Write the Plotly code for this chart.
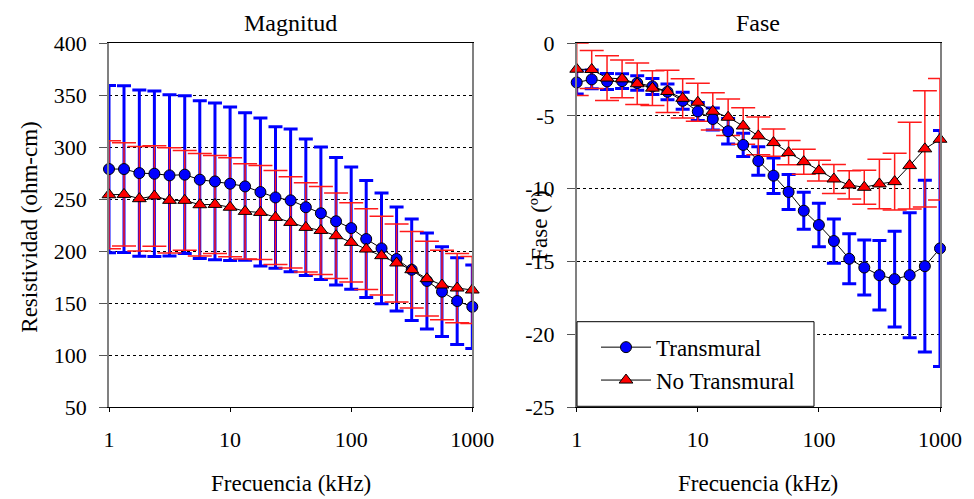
import plotly.graph_objects as go

# Frequencies (kHz)
freq = [1, 1.33, 1.78, 2.37, 3.16, 4.22, 5.62, 7.5, 10, 13.3, 17.8, 23.7, 31.6,
        42.2, 56.2, 75, 100, 133, 178, 237, 316, 422, 562, 750, 1000]

# Magnitud (ohm-cm)
mag_trans = [278.8, 278.8, 274.9, 274.3, 272.7, 273.4, 268.6, 266.9, 264.7, 262.1, 256.7, 251.5, 248.7,
             242.1, 236.3, 228.6, 222.0, 211.5, 202.5, 192.3, 182.0, 171.2, 160.9, 151.9, 146.4]
mag_trans_sd = [80.4, 80.2, 79.9, 79.5, 77.6, 75.9, 75.9, 75.4, 73.8, 70.9, 71.2, 68.0, 68.6,
                65.7, 63.7, 61.4, 58.8, 56.3, 53.3, 50.0, 48.8, 46.1, 43.2, 41.7, 40.1]
mag_notrans = [254.1, 254.4, 250.3, 252.9, 248.7, 248.7, 244.5, 244.8, 242.1, 238.1, 237.1, 232.3, 227.5,
               222.7, 219.8, 214.7, 208.3, 201.9, 195.5, 188.5, 182.0, 173.4, 167.3, 164.4, 162.5]
mag_notrans_sd = [52.0, 49.7, 50.3, 48.4, 50.6, 48.0, 49.3, 47.1, 47.6, 45.8, 45.2, 45.2, 43.9,
                  43.0, 42.3, 41.1, 38.1, 38.8, 37.8, 37.5, 36.7, 35.9, 33.5, 33.3, 32.3]

# Fase (grados)
fase_trans = [-2.71, -2.5, -2.64, -2.62, -2.75, -2.98, -3.35, -3.97, -4.7, -5.22, -6.06, -7.0, -8.1,
              -9.11, -10.23, -11.52, -12.5, -13.6, -14.82, -15.42, -15.95, -16.22, -15.95, -15.33, -14.11]
fase_trans_sd = [0.8, 0.65, 0.55, 0.5, 0.5, 0.55, 0.54, 0.58, 0.62, 0.75, 0.88, 0.8, 0.98,
                 1.22, 1.2, 1.27, 1.5, 1.52, 1.72, 1.89, 2.39, 3.29, 4.29, 5.9, 8.1]
fase_notrans = [-1.8, -1.82, -2.41, -2.46, -2.8, -3.1, -3.33, -3.8, -4.07, -4.69, -5.1, -5.7, -6.38,
                -6.84, -7.53, -8.15, -8.77, -9.34, -9.75, -9.91, -9.68, -9.52, -8.42, -7.27, -6.61]
fase_notrans_sd = [1.8, 1.3, 1.54, 1.3, 1.42, 1.2, 1.45, 1.35, 1.3, 1.28, 1.25, 1.25, 1.3,
                   0.94, 0.83, 0.86, 0.71, 1.0, 0.97, 1.17, 1.7, 1.95, 2.98, 3.99, 4.18]

x_tickvals = [1, 10, 100, 1000]
x_ticktext = ["1", "10", "100", "1000"]
mag_tickvals = [50, 100, 150, 200, 250, 300, 350, 400]
mag_ticktext = ["50", "100", "150", "200", "250", "300", "350", "400"]
fase_tickvals = [0, -5, -10, -15, -20, -25]
fase_ticktext = ["0", "-5", "-10", "-15", "-20", "-25"]

FONT = "Times New Roman, Liberation Serif, DejaVu Serif, serif"
OFF = 8                       # page body margin in the browser
W, H = 974 - OFF, 499 - OFF
ML = 109 - OFF
MR = W - (940 - OFF)
MT = 43.3 - OFF
MB = H - (407.3 - OFF)
PW = W - ML - MR
PH = H - MT - MB


def px(xr):
    """reference-pixel x -> paper fraction"""
    return (xr - OFF - ML) / PW


def py(yr):
    """reference-pixel y -> paper fraction"""
    return (H - MB - (yr - OFF)) / PH


fig = go.Figure()


def err_trace(x, y, sd, color, thick, width, xa, ya):
    return go.Scatter(x=x, y=y, mode="markers", xaxis=xa, yaxis=ya,
                      marker=dict(size=1, color="rgba(0,0,0,0)"),
                      error_y=dict(type="data", array=sd, visible=True, color=color,
                                   thickness=thick, width=width),
                      showlegend=False, hoverinfo="skip", cliponaxis=False)


def main_trace(x, y, name, symbol, color, size, xa, ya, legend):
    return go.Scatter(x=x, y=y, mode="lines+markers", name=name, xaxis=xa, yaxis=ya,
                      line=dict(color="black", width=1),
                      marker=dict(symbol=symbol, size=size, color=color,
                                  line=dict(color="black", width=1)),
                      showlegend=legend, cliponaxis=False)


# Left panel
fig.add_trace(err_trace(freq, mag_trans, mag_trans_sd, "#0000ff", 3, 7, "x", "y"))
fig.add_trace(err_trace(freq, mag_notrans, mag_notrans_sd, "#ff1a1a", 1.5, 12, "x", "y"))
fig.add_trace(main_trace(freq, mag_trans, "Transmural", "circle", "#0000ff", 11, "x", "y", False))
fig.add_trace(main_trace(freq, mag_notrans, "No Transmural", "triangle-up", "#ff0000", 12, "x", "y", False))

# Right panel
fig.add_trace(err_trace(freq, fase_trans, fase_trans_sd, "#0000ff", 3, 7, "x2", "y2"))
fig.add_trace(err_trace(freq, fase_notrans, fase_notrans_sd, "#ff1a1a", 1.5, 12, "x2", "y2"))
fig.add_trace(main_trace(freq, fase_trans, "Transmural", "circle", "#0000ff", 11, "x2", "y2", True))
fig.add_trace(main_trace(freq, fase_notrans, "No Transmural", "triangle-up", "#ff0000", 12, "x2", "y2", True))

xcommon = dict(type="log", range=[0, 3], tickvals=x_tickvals, ticktext=x_ticktext,
               showgrid=False, zeroline=False, showline=True, linecolor="black", linewidth=1,
               mirror=True, ticks="outside", ticklen=4, tickcolor="black", automargin=False,
               tickfont=dict(family=FONT, size=22, color="black"), ticklabelstandoff=9)
ycommon = dict(showgrid=True, gridcolor="black", griddash="dot", gridwidth=1, zeroline=False,
               showline=True, linecolor="#808080", linewidth=1.5, mirror=True,
               ticks="outside", ticklen=8, tickcolor="#555555", automargin=False,
               tickfont=dict(family=FONT, size=22, color="black"), ticklabelstandoff=8)

fig.update_layout(
    width=W, height=H,
    margin=dict(l=ML, r=MR, t=MT, b=MB, pad=0, autoexpand=False),
    paper_bgcolor="white", plot_bgcolor="white",
    font=dict(family=FONT, size=23, color="black"),
    xaxis=dict(domain=[0, px(472.3)], anchor="y", **xcommon),
    yaxis=dict(domain=[0, 1], anchor="x", range=[50, 400],
               tickvals=mag_tickvals, ticktext=mag_ticktext, **ycommon),
    xaxis2=dict(domain=[px(576.7), 1], anchor="y2", **xcommon),
    yaxis2=dict(domain=[0, 1], anchor="x2", range=[-25, 0],
                tickvals=fase_tickvals, ticktext=fase_ticktext, **ycommon),
    showlegend=True,
    legend=dict(x=px(596), y=py(402), xanchor="left", yanchor="bottom",
                bgcolor="rgba(0,0,0,0)", borderwidth=0,
                font=dict(family=FONT, size=23, color="black"),
                itemwidth=50, tracegroupgap=0),
    shapes=[dict(type="rect", xref="paper", yref="paper",
                 x0=px(577), x1=px(814), y0=py(406.6), y1=py(322),
                 line=dict(color="black", width=1), fillcolor="white", layer="above")],
    annotations=[
        dict(text="Magnitud", x=px(290.6), y=py(23.5), xref="paper", yref="paper",
             showarrow=False, font=dict(family=FONT, size=24), xanchor="center", yanchor="middle"),
        dict(text="Fase", x=px(758.3), y=py(23.5), xref="paper", yref="paper",
             showarrow=False, font=dict(family=FONT, size=24), xanchor="center", yanchor="middle"),
        dict(text="Frecuencia (kHz)", x=px(290.6), y=py(484), xref="paper", yref="paper",
             showarrow=False, font=dict(family=FONT, size=23), xanchor="center", yanchor="middle"),
        dict(text="Frecuencia (kHz)", x=px(758.3), y=py(484), xref="paper", yref="paper",
             showarrow=False, font=dict(family=FONT, size=23), xanchor="center", yanchor="middle"),
        dict(text="Resistividad (ohm-cm)", x=px(30), y=py(228), xref="paper", yref="paper",
             showarrow=False, font=dict(family=FONT, size=23), textangle=-90,
             xanchor="center", yanchor="middle"),
        dict(text="Fase (º)", x=px(540), y=py(226), xref="paper", yref="paper",
             showarrow=False, font=dict(family=FONT, size=23), textangle=-90,
             xanchor="center", yanchor="middle"),
    ],
)

fig.write_html("out.html")
